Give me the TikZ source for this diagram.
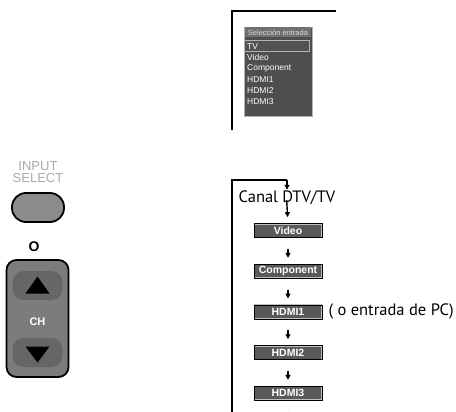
\documentclass[tikz,border=0pt]{standalone}
\usepackage{fontspec}
\setmainfont{Liberation Sans}
\newfontfamily\notefont{PT Sans}
\usetikzlibrary{arrows.meta, positioning}
\definecolor{menugray}{HTML}{4E4E4E}
\definecolor{titlegray}{HTML}{707070}
\definecolor{boxgray}{HTML}{595959}
\definecolor{btngray}{HTML}{8C8C8C}
\definecolor{rockgray}{HTML}{7C7C7C}
\definecolor{keygray}{HTML}{666666}
\definecolor{silkgray}{HTML}{A9A9A9}

\begin{document}
\begin{tikzpicture}[
    x=1pt, y=-1pt,
    node distance=26pt,
    frame/.style={line width=1.8pt},
    flow/.style={line width=1.4pt, -{Triangle[length=5pt,width=5pt]}},
    srcbox/.style={draw=black, line width=0.7pt, fill=boxgray,
                   minimum width=68pt, minimum height=14pt, inner sep=0pt,
                   text=white, font=\bfseries\fontsize{10.5}{11}\selectfont,
                   path picture={\draw[black!25, line width=2pt]
                       (path picture bounding box.south west) rectangle
                       (path picture bounding box.north east);}},
    note/.style={inner sep=1pt, font=\notefont\fontsize{16.5}{17}\selectfont},
    menubox/.style={draw=black!30, line width=0.6pt, fill=menugray,
                    minimum width=68pt, minimum height=89pt, inner sep=0pt},
    menutitle/.style={fill=titlegray, minimum width=66pt, minimum height=10pt,
                      inner sep=0pt, text=white!85!black,
                      font=\fontsize{7.5}{8}\selectfont},
    menusel/.style={draw=black!30, line width=1pt, fill=black!68,
                    minimum width=65pt, minimum height=11pt, inner sep=0pt},
    menuitem/.style={anchor=west, inner sep=0pt, text=white,
                     font=\fontsize{8.5}{9}\selectfont},
    silk/.style={text=silkgray, inner sep=0pt, font=\fontsize{13}{13}\selectfont},
    inputbtn/.style={draw=black, line width=1.8pt, fill=btngray,
                     rounded corners=14pt, minimum width=52pt, minimum height=29pt},
    rocker/.style={draw=black, line width=1.8pt, fill=rockgray,
                   rounded corners=10pt, minimum width=62pt, minimum height=117pt},
    chkey/.style={fill=keygray, rounded corners=11pt,
                  minimum width=50pt, minimum height=29pt}
]
\useasboundingbox (0,0) rectangle (456,412);

% remote keys
\node[silk] (silkin) at (38,166) {INPUT};
\node[silk] (silksel) at (38,178) {SELECT};
\node[inputbtn] (input) at (38,207.5) {};
\node[font=\bfseries\fontsize{14}{14}\selectfont] (or) at (34,247) {O};
\node[rocker] (rocker) at (37.5,318.5) {};
\node[chkey] (chup) at (37.5,285.5) {};
\node[chkey] (chdown) at (37.5,352.5) {};
\fill (chup.center) ++(0,-9) -- ++(12,17) -- ++(-24,0) -- cycle;
\fill (chdown.center) ++(0,10) -- ++(12,-16) -- ++(-24,0) -- cycle;
\node[text=white, font=\bfseries\fontsize{11}{11}\selectfont] (ch) at (37.5,321.5) {CH};

% on-screen menu
\coordinate (panelbot) at (232,130);
\coordinate (panelend) at (336,11);
\draw[frame] (panelbot) |- (panelend);
\node[menubox] (menu) at (278,71.5) {};
\node[menutitle] (mtitle) at (278,32.5) {Selección entrada};
\node[menusel] (msel) at (276.5,46.5) {};
\node[menuitem] (mtv) at (247,46.5) {TV};
\node[menuitem] (mvideo) at (247,57.5) {Video};
\node[menuitem] (mcomp) at (247,68.5) {Component};
\node[menuitem] (mhdmi1) at (247,79.5) {HDMI1};
\node[menuitem] (mhdmi2) at (247,90.5) {HDMI2};
\node[menuitem] (mhdmi3) at (247,101.5) {HDMI3};

% input cycle
\node[note] (canal) at (287,198) {Canal DTV/TV};
\node[srcbox] (video) at (288,230.5) {Video};
\node[srcbox, below=of video] (comp) {Component};
\node[srcbox, below=of comp] (hdmi1) {HDMI1};
\node[srcbox, below=of hdmi1] (hdmi2) {HDMI2};
\node[srcbox, below=of hdmi2] (hdmi3) {HDMI3};
\node[note, right=5pt of hdmi1] (pcnote) {( o entrada de PC)};

\coordinate (loopbot) at (232,412);
\coordinate (looptop) at (232,180);
\draw[frame] (loopbot) -- (looptop) -- (looptop -| canal.north);
\draw[flow] (looptop -| canal.north) -- (canal.north);
\draw[flow, shorten <=-6pt, shorten >=6pt] (canal.south) -- (video.north);
\draw[flow, shorten <=11pt, shorten >=6pt] (video) -- (comp);
\draw[flow, shorten <=11pt, shorten >=6pt] (comp) -- (hdmi1);
\draw[flow, shorten <=11pt, shorten >=6pt] (hdmi1) -- (hdmi2);
\draw[flow, shorten <=11pt, shorten >=6pt] (hdmi2) -- (hdmi3);
\draw[line width=1.4pt, shorten <=11pt] (hdmi3) -- (hdmi3 |- loopbot);

\end{tikzpicture}
\end{document}
